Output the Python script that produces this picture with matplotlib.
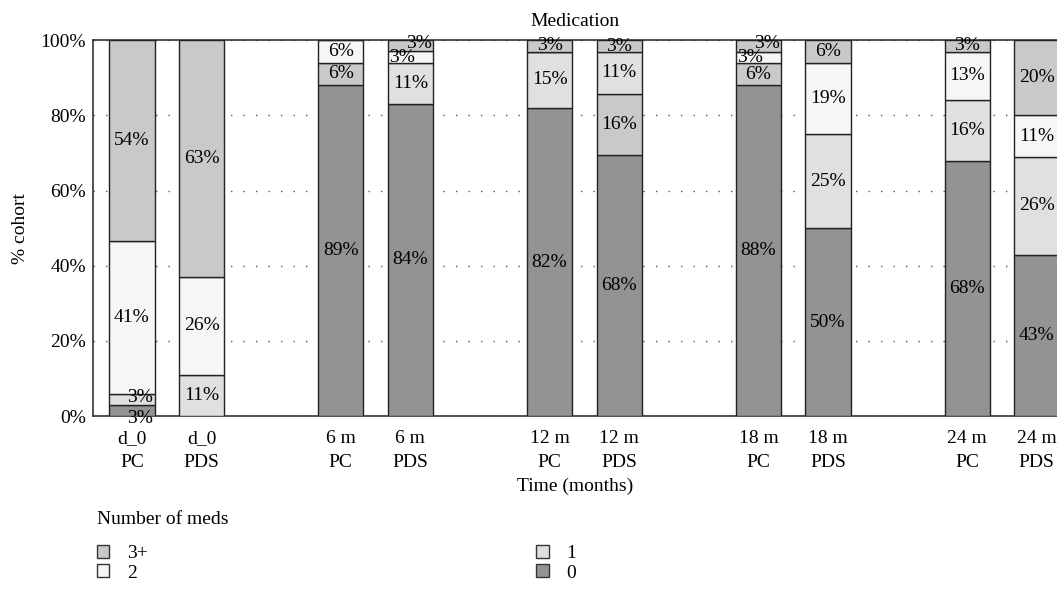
import numpy as np
import matplotlib.pyplot as plt
from matplotlib.patches import Patch

plt.rcParams['font.family'] = ['Liberation Serif', 'DejaVu Serif']

# Bars: time point and arm
time_labels = ['d_0', 'd_0', '6 m', '6 m', '12 m', '12 m', '18 m', '18 m', '24 m', '24 m']
arm_labels = ['PC', 'PDS', 'PC', 'PDS', 'PC', 'PDS', 'PC', 'PDS', 'PC', 'PDS']
bar_pos = [0, 1, 3, 4, 6, 7, 9, 10, 12, 13]

# Percent of cohort per number of meds (stacked bottom -> top)
meds_0 = [3, 0, 89, 84, 82, 68, 88, 50, 68, 43]
meds_1 = [3, 11, 6, 11, 15, 16, 6, 25, 16, 26]
meds_2 = [41, 26, 6, 3, 0, 11, 3, 19, 13, 11]
meds_3 = [54, 63, 0, 3, 3, 3, 3, 6, 3, 20]

c0, c1, c2, c3 = '#939393', '#e0e0e0', '#f5f6f5', '#c9c9c9'
# shades of segments as they appear in each bar of the original
meds_1_colors = [c1, c1, c3, c1, c1, c3, c3, c1, c1, c1]
meds_2_colors = [c2, c2, c2, c2, c2, c1, c2, c2, c2, c2]

FS = 14

fig = plt.figure(figsize=(10.57, 5.92), dpi=100)
ax = fig.add_axes([0.088, 0.297, 0.912, 0.635])

series = [meds_0, meds_1, meds_2, meds_3]
colors = [[c0] * 10, meds_1_colors, meds_2_colors, [c3] * 10]
totals = np.sum(np.array(series), axis=0)

bottom = np.zeros(len(bar_pos))
for k, (vals, cols) in enumerate(zip(series, colors)):
    vals = np.array(vals, dtype=float)
    h = vals / totals * 100
    ax.bar(bar_pos, h, bottom=bottom, width=0.65, color=cols,
           edgecolor='#222222', linewidth=1.0, zorder=3)
    for i, (x, b, hh, v) in enumerate(zip(bar_pos, bottom, h, vals)):
        if v <= 0:
            continue
        dx, dy = 0, 0
        # nudge labels of thin neighbouring segments apart
        if v < 5:
            below_small = k > 0 and 0 < series[k - 1][i] < 5
            above_small = k < 3 and 0 < series[k + 1][i] < 5
            if above_small:
                dx, dy = -0.12, 0
            elif below_small:
                dx, dy = 0.12, 0.6
        if k == 0 and v < 5:
            dx, dy = 0.12, -2.0
        ax.text(x + dx, b + hh / 2 + dy, f'{int(v)}%', ha='center', va='center',
                fontsize=FS, zorder=4, clip_on=False)
    bottom += h

ax.set_ylim(0, 100)
ax.set_xlim(-0.56, 13.29)
ax.set_yticks([0, 20, 40, 60, 80, 100])
ax.set_yticklabels([f'{t}%' for t in [0, 20, 40, 60, 80, 100]], fontsize=FS)
ax.set_xticks(bar_pos)
ax.set_xticklabels([f'{t}\n{a}' for t, a in zip(time_labels, arm_labels)],
                   fontsize=FS, linespacing=1.5)
ax.tick_params(axis='x', length=0, pad=10)
ax.tick_params(axis='y', length=0, pad=5)
ax.yaxis.grid(True, linestyle=(0, (1, 8)), color='#555555', linewidth=1)
ax.set_axisbelow(True)
ax.spines['right'].set_visible(False)
for s in ['left', 'bottom', 'top']:
    ax.spines[s].set_color('#333333')
    ax.spines[s].set_linewidth(1.2)

ax.set_ylabel('% cohort', fontsize=FS, labelpad=8)
ax.set_xlabel('Time (months)', fontsize=FS, labelpad=5)
ax.set_title('Medication', fontsize=FS, pad=10)

fig.text(0.092, 0.123, 'Number of meds', fontsize=FS, va='center')
handles = [Patch(facecolor=c3, edgecolor='#333333', label='3+'),
           Patch(facecolor=c2, edgecolor='#333333', label='2'),
           Patch(facecolor=c1, edgecolor='#333333', label='1'),
           Patch(facecolor=c0, edgecolor='#333333', label='0')]
fig.legend(handles=handles, loc='upper left', bbox_to_anchor=(0.0915, 0.0795),
           ncol=2, frameon=False, fontsize=FS, handlelength=0.65,
           handleheight=0.65, labelspacing=0.1, columnspacing=20.0,
           handletextpad=0.9, borderpad=0, borderaxespad=0)

fig.savefig('out.png', dpi=100)
